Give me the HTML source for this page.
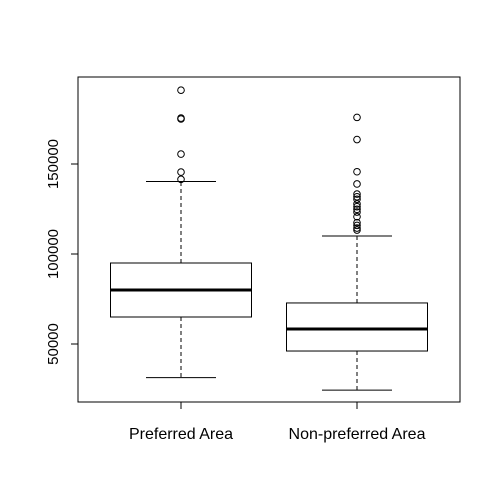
<!DOCTYPE html>
<html><head><meta charset="utf-8"><style>body{margin:0;background:#fff}svg{display:block}</style></head>
<body>
<svg id="c" width="500" height="500" xmlns="http://www.w3.org/2000/svg" font-family="Liberation Sans, sans-serif">
<rect x="78" y="77" width="382" height="325" fill="none" stroke="#000" stroke-width="1"/>
<g id="ax"></g><g id="boxes"></g>
</svg>
<script>
const categories = ["Preferred Area", "Non-preferred Area"];
const lowWhisker = [31300, 24400];
const q1 = [65000, 46100];
const medians = [80000, 58300];
const q3 = [95000, 72800];
const highWhisker = [140300, 110000];
const outliers0 = [191000, 175500, 175000, 155500, 145500, 141500];
const outliers1 = [175900, 163600, 145700, 138900, 133300, 131800, 130400, 127800, 126300, 124800, 123300, 120700, 117400, 115900, 114400, 113300];
const yTicks = [50000, 100000, 150000];
const NS = "http://www.w3.org/2000/svg";
const y = v => 344 - (v - 50000) * 0.0018;
const x = i => 181 + i * 176;
function mk(tag, attrs, parent, text) {
  const e = document.createElementNS(NS, tag);
  for (const k in attrs) e.setAttribute(k, attrs[k]);
  if (text !== undefined) e.textContent = text;
  parent.appendChild(e); return e;
}
const ax = document.getElementById('ax'), bx = document.getElementById('boxes');
yTicks.forEach(t => {
  const l = mk('line', {x1: 71, x2: 78, y1: y(t), y2: y(t), stroke: '#000'}, ax);
  
  
  const tx = mk('text', {x: 0, y: 0, 'font-size': 15, 'text-anchor': 'middle', transform: `translate(58,${y(t)}) rotate(-90)`, fill: '#000'}, ax, String(t));
  
  
});
const outs = [outliers0, outliers1];
categories.forEach((c, i) => {
  const cx = x(i);
  const g = mk('g', {}, bx);
  
  
  mk('line', {x1: cx, x2: cx, y1: y(q3[i]), y2: y(highWhisker[i]), stroke: '#000', 'stroke-dasharray': '4,3'}, g);
  mk('line', {x1: cx, x2: cx, y1: y(q1[i]), y2: y(lowWhisker[i]), stroke: '#000', 'stroke-dasharray': '4,3'}, g);
  mk('line', {x1: cx - 35, x2: cx + 35, y1: y(highWhisker[i]), y2: y(highWhisker[i]), stroke: '#000'}, g);
  mk('line', {x1: cx - 35, x2: cx + 35, y1: y(lowWhisker[i]), y2: y(lowWhisker[i]), stroke: '#000'}, g);
  mk('rect', {x: cx - 70.5, y: y(q3[i]), width: 141, height: y(q1[i]) - y(q3[i]), fill: '#fff', stroke: '#000'}, g);
  mk('line', {x1: cx - 70.5, x2: cx + 70.5, y1: y(medians[i]), y2: y(medians[i]), stroke: '#000', 'stroke-width': 3}, g);
  outs[i].forEach(v => {
    const o = mk('circle', {cx: cx, cy: y(v), r: 3.3, fill: 'none', stroke: '#000'}, g);
    
    
  });
  const tk = mk('line', {x1: cx, x2: cx, y1: 402, y2: 409, stroke: '#000'}, ax);
  
  
  const lb = mk('text', {x: cx, y: 439, 'font-size': 16, 'text-anchor': 'middle', fill: '#000'}, ax, c);
  
  
});
</script>
</body></html>
